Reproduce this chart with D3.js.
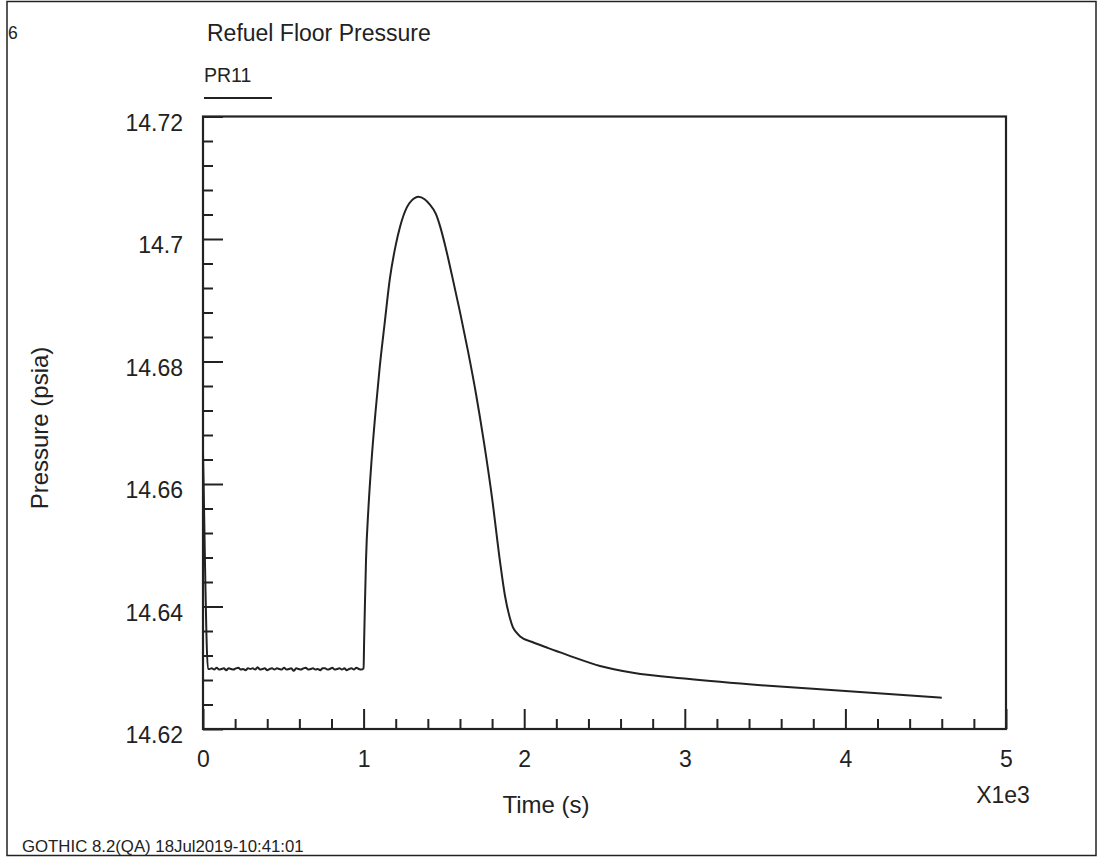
<!DOCTYPE html>
<html><head><meta charset="utf-8">
<script src="https://cdn.jsdelivr.net/npm/d3@7"></script>
<style>
body{margin:0;background:#fff}
text{font-family:"Liberation Sans",Arial,Helvetica,sans-serif;fill:#222}
</style>
</head><body>
<svg id="c" width="1098" height="857"></svg>
<script>
// ---------------- data ----------------
const pageNumber = "6";
const chartTitle = "Refuel Floor Pressure";
const seriesName = "PR11";
const xLabel = "Time (s)";
const xMultiplier = "X1e3";
const yLabel = "Pressure (psia)";
const footer = "GOTHIC 8.2(QA) 18Jul2019-10:41:01";

const xMajorTicks = [0, 1000, 2000, 3000, 4000, 5000];
const xTickLabels = ["0", "1", "2", "3", "4", "5"];
const yMajorTicks = [14.62, 14.64, 14.66, 14.68, 14.70, 14.72];
const yTickLabels = ["14.62", "14.64", "14.66", "14.68", "14.7", "14.72"];

// time (s)
const timeS = [
  0, 4, 12, 31,
  40, 55, 70, 85, 100, 115, 130, 145, 160, 175, 190, 205, 220, 235, 250,
  265, 280, 295, 310, 325, 340, 355, 370, 385, 400, 415, 430, 445, 460, 475,
  490, 505, 520, 535, 550, 565, 580, 595, 610, 625, 640, 655, 670, 685, 700,
  715, 730, 745, 760, 775, 790, 805, 820, 835, 850, 865, 880, 895, 910, 925,
  940, 955, 970, 985, 1000,
  1003, 1008, 1015, 1030, 1050, 1075, 1100, 1130, 1164, 1200, 1227, 1270, 1300,
  1320, 1340, 1380, 1410, 1450, 1476, 1510, 1550, 1600, 1650, 1700, 1750,
  1800, 1849, 1880, 1910, 1930, 1950, 1975, 2050, 2150, 2267, 2472, 2677, 3014,
  3500, 4000, 4600
];
// pressure PR11 (psia)
const pressurePR11 = [
  14.6650, 14.6600, 14.6476, 14.6298,
  14.6298, 14.6299, 14.6297, 14.6300, 14.6297, 14.6298, 14.6299, 14.6296, 14.6299, 14.6298,
  14.6297, 14.6299, 14.6300, 14.6297, 14.6298, 14.6296, 14.6299, 14.6298, 14.6299, 14.6297,
  14.6301, 14.6297, 14.6298, 14.6299, 14.6296, 14.6298, 14.6299, 14.6297, 14.6299, 14.6298,
  14.6297, 14.6300, 14.6297, 14.6298, 14.6299, 14.6295, 14.6299, 14.6298, 14.6297, 14.6299,
  14.6300, 14.6297, 14.6298, 14.6299, 14.6297, 14.6298, 14.6296, 14.6299, 14.6299, 14.6297,
  14.6298, 14.6300, 14.6297, 14.6298, 14.6299, 14.6297, 14.6299, 14.6296, 14.6298, 14.6299,
  14.6297, 14.6300, 14.6298, 14.6297, 14.6299,
  14.6340, 14.6400, 14.6476, 14.6560, 14.6640, 14.6720, 14.6790, 14.6860, 14.6936, 14.6990,
  14.7020, 14.7052, 14.7063, 14.7067, 14.7069, 14.7065, 14.7057, 14.7041, 14.7021, 14.6987,
  14.6941, 14.6881, 14.6817, 14.6747, 14.6667, 14.6577, 14.6474, 14.6418, 14.6382, 14.6366,
  14.6358, 14.6351, 14.6342, 14.6332, 14.6321, 14.6303, 14.6292, 14.6282, 14.6271, 14.6262,
  14.6251
];

// ---------------- drawing ----------------
const plot = {left: 203, right: 1006, top: 116.5, bottom: 729};
const ink = "#222";
const font = "'Liberation Sans', Arial, sans-serif";

const svg = d3.select("#c");
const x = d3.scaleLinear().domain([0, 5000]).range([plot.left, plot.right]);
const y = d3.scaleLinear().domain([14.62, 14.72]).range([plot.bottom, plot.top]);

// outer frame
svg.append("rect").attr("x", 7).attr("y", 1.5).attr("width", 1089).attr("height", 854)
  .attr("fill", "none").attr("stroke", ink).attr("stroke-width", 1.5);

// minor ticks (every 0.004 psia / 200 s)
const yMinor = d3.range(0, 26).map(i => 14.62 + i * 0.004).filter((v, i) => i % 5 !== 0);
const xMinor = d3.range(0, 26).map(i => i * 200).filter((v, i) => i % 5 !== 0);

const gyMinor = svg.append("g").attr("transform", `translate(${plot.left},0)`)
  .call(d3.axisLeft(y).tickValues(yMinor).tickSizeInner(-10).tickSizeOuter(0).tickFormat(""));
const gyMajor = svg.append("g").attr("transform", `translate(${plot.left},0)`)
  .call(d3.axisLeft(y).tickValues(yMajorTicks).tickSizeInner(-20).tickSizeOuter(0).tickPadding(20)
    .tickFormat((d, i) => yTickLabels[i]));
const gxMinor = svg.append("g").attr("transform", `translate(0,${plot.bottom})`)
  .call(d3.axisBottom(x).tickValues(xMinor).tickSizeInner(-10).tickSizeOuter(0).tickFormat(""));
const gxMajor = svg.append("g").attr("transform", `translate(0,${plot.bottom})`)
  .call(d3.axisBottom(x).tickValues(xMajorTicks).tickSizeInner(-20).tickSizeOuter(0).tickPadding(22)
    .tickFormat((d, i) => xTickLabels[i]));

[gyMinor, gyMajor, gxMinor, gxMajor].forEach(g => {
  g.select(".domain").remove();
  g.selectAll(".tick line").attr("stroke", ink).attr("stroke-width", 2);
  g.selectAll(".tick text").attr("font-size", 23).attr("fill", ink).attr("font-family", font);
});
gyMajor.selectAll(".tick text").attr("dy", "0.6em");
gxMajor.selectAll(".tick text").attr("dy", "0.71em");

// plot box
svg.append("rect").attr("x", plot.left).attr("y", plot.top)
  .attr("width", plot.right - plot.left).attr("height", plot.bottom - plot.top)
  .attr("fill", "none").attr("stroke", ink).attr("stroke-width", 2.2);

// data line
const pts = timeS.map((t, i) => [t, pressurePR11[i]]);
svg.append("path").datum(pts)
  .attr("fill", "none").attr("stroke", ink).attr("stroke-width", 2)
  .attr("stroke-linejoin", "round")
  .attr("d", d3.line().curve(d3.curveMonotoneX).x(d => x(d[0])).y(d => y(d[1])));

// texts
svg.append("text").attr("x", 8).attr("y", 39).attr("font-size", 17.5).text(pageNumber);
svg.append("text").attr("x", 207).attr("y", 41).attr("font-size", 23).text(chartTitle);
svg.append("text").attr("x", 204).attr("y", 82).attr("font-size", 19.5).text(seriesName);
svg.append("line").attr("x1", 204).attr("x2", 272).attr("y1", 98).attr("y2", 98)
  .attr("stroke", ink).attr("stroke-width", 1.8);

svg.append("text").attr("x", 546).attr("y", 813)
  .attr("text-anchor", "middle").attr("font-size", 24).text(xLabel);
svg.append("text").attr("x", 1003).attr("y", 803)
  .attr("text-anchor", "middle").attr("font-size", 23).text(xMultiplier);
svg.append("text").attr("transform", `translate(48,428) rotate(-90)`)
  .attr("text-anchor", "middle").attr("font-size", 24).text(yLabel);
svg.append("text").attr("x", 22).attr("y", 852).attr("font-size", 16.8).text(footer);
</script>
</body></html>
